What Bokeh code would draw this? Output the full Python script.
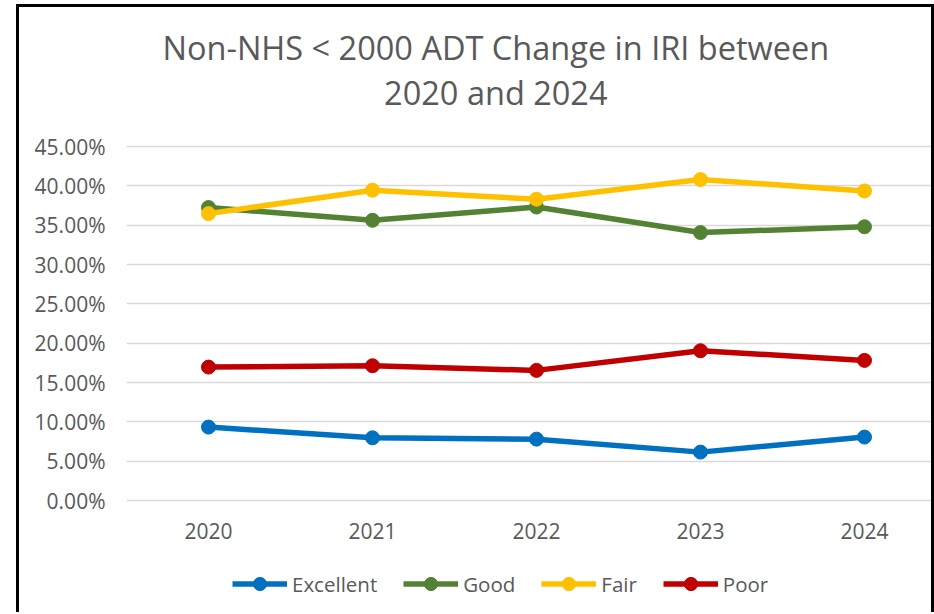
from bokeh.plotting import figure
from bokeh.models import (Range1d, FixedTicker, NumeralTickFormatter, Label,
                          Legend, LegendItem)
from bokeh.embed import file_html
from bokeh.resources import INLINE

years = ["2020", "2021", "2022", "2023", "2024"]
excellent = [0.0933, 0.0797, 0.0780, 0.0615, 0.0806]
good = [0.3724, 0.3562, 0.3730, 0.3406, 0.3480]
fair = [0.3647, 0.3944, 0.3830, 0.4080, 0.3935]
poor = [0.1696, 0.1713, 0.1654, 0.1904, 0.1781]
y_ticks = [0.0, 0.05, 0.10, 0.15, 0.20, 0.25, 0.30, 0.35, 0.40, 0.45]
title_lines = ["Non-NHS < 2000 ADT Change in IRI between", "2020 and 2024"]

series = [("Excellent", excellent, "#0070C0"),
          ("Good", good, "#548235"),
          ("Fair", fair, "#FFC000"),
          ("Poor", poor, "#C00000")]

xs = list(range(len(years)))
TXT = "#595959"
FONT = "Open Sans"

# layout (pixels): the plotting frame covers the whole chart height so the
# title and legend can sit inside it; gridlines only at the percent ticks
PLOT_H = 354            # height of 0%..45% band
ABOVE = 139             # space above the 45% line (title)
BELOW = 112             # space below the 0% line (x labels + legend)
CAT_W = 164             # width of one category slot
FRAME_W = 805
k = 0.45 / PLOT_H
y_top = 0.45 + ABOVE * k
y_bot = -BELOW * k
x_left = -0.5
x_right = x_left + FRAME_W / CAT_W

p = figure(frame_width=FRAME_W, frame_height=PLOT_H + ABOVE + BELOW,
           output_backend="svg", toolbar_location=None,
           x_range=Range1d(x_left, x_right), y_range=Range1d(y_bot, y_top),
           min_border_left=107, min_border_right=0, min_border_top=0,
           min_border_bottom=0, title=None)
p.margin = (4, 0, 0, 16)
p.styles = {"border-top": "3px solid black", "border-left": "3px solid black",
            "border-right": "3px solid black"}
p.outline_line_color = None
p.background_fill_color = "white"
p.border_fill_color = "white"

# title, centred over the chart area
title_x = 1.752
title_y = [0.45 + 99.3 * k, 0.45 + 54.3 * k]
for txt, ty in zip(title_lines, title_y):
    p.add_layout(Label(x=title_x, y=ty, text=txt, text_align="center",
                       text_baseline="middle", text_font=FONT,
                       text_font_size="32.5px", text_color=TXT))

# axes
p.xaxis.ticker = FixedTicker(ticks=xs)
p.xaxis.major_label_overrides = {i: y for i, y in enumerate(years)}
p.xaxis.fixed_location = 0
p.yaxis.ticker = FixedTicker(ticks=y_ticks)
p.yaxis.formatter = NumeralTickFormatter(format="0.00%")
for ax in (p.xaxis, p.yaxis):
    ax.axis_line_color = None
    ax.major_tick_line_color = None
    ax.minor_tick_line_color = None
    ax.major_label_text_font = FONT
    ax.major_label_text_font_size = "21px"
    ax.major_label_text_color = TXT
p.yaxis.major_label_standoff = 15
p.xaxis.major_label_standoff = 16

p.xgrid.grid_line_color = None
p.ygrid.grid_line_color = "#D9D9D9"
p.ygrid.grid_line_width = 1.5

items = []
for name, vals, col in series:
    r1 = p.line(xs, vals, line_color=col, line_width=5.5)
    r2 = p.scatter(xs, vals, size=14, fill_color=col, line_color=col)
    items.append(LegendItem(label=name, renderers=[r1, r2]))

legend = Legend(items=items, orientation="horizontal", location=(106, 12),
                glyph_width=55, glyph_height=33, label_standoff=5, spacing=26,
                label_text_font=FONT, label_text_font_size="20.5px",
                label_text_color=TXT, border_line_color=None,
                background_fill_alpha=0, margin=0, padding=0)
p.add_layout(legend)

open("out.html", "w").write(file_html(p, INLINE))
